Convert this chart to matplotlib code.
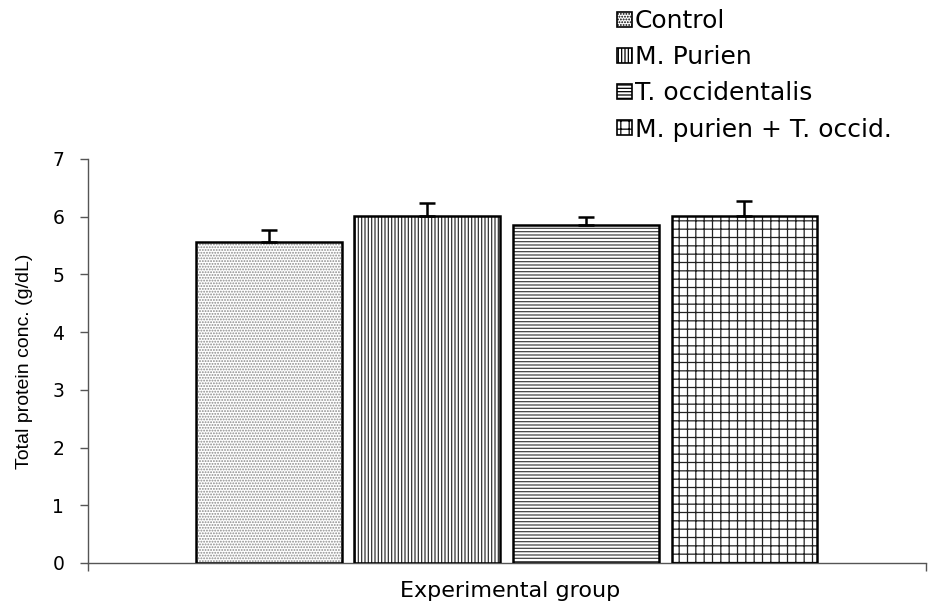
import numpy as np
import matplotlib.pyplot as plt
from matplotlib.patches import Patch

groups = ["Control", "M. Purien", "T. occidentalis", "M. purien + T. occid."]
means = [5.56, 6.01, 5.86, 6.01]
errs = [0.21, 0.23, 0.13, 0.26]
hatches = ["......", "|||||", "-----", "++"]
hatch_cols = ["#8a8a8a", "#333333", "#444444", "#222222"]

plt.rcParams['font.family'] = ['DejaVu Sans']
plt.rcParams['hatch.linewidth'] = 0.9

fig = plt.figure(figsize=(9.32, 6.02), dpi=100)
ax = fig.add_axes([0.0944, 0.0648, 0.8992, 0.6711])

x = np.arange(len(groups))
w = 0.92
# hatch layer (hatch colour follows edgecolor), then black outline on top
ax.bar(x, means, w, color="white", edgecolor=hatch_cols, hatch=hatches, linewidth=0, zorder=2)
ax.bar(x, means, w, fill=False, edgecolor="black", linewidth=1.8, zorder=3)
ax.errorbar(x, means, yerr=[np.zeros(len(errs)), errs], fmt="none", ecolor="black",
            elinewidth=1.8, capsize=6, capthick=1.8, zorder=4)

ax.set_ylim(0, 7)
ax.set_xlim(-1.14, 4.145)
ax.set_yticks(range(8))
ax.set_xticks([-1.14, 4.145])
ax.set_xticklabels([])
ax.tick_params(axis="both", direction="out", length=6, width=1, color="#555555",
               labelsize=13.5, pad=11)
for s in ["top", "right"]:
    ax.spines[s].set_visible(False)
for s in ["left", "bottom"]:
    ax.spines[s].set_color("#555555")
    ax.spines[s].set_linewidth(1)

ax.set_ylabel("Total protein conc. (g/dL)", fontsize=14,
              family=["Liberation Sans Narrow", "Liberation Sans"], labelpad=14)
fig.text(510 / 932, 1 - 581 / 602, "Experimental group", fontsize=16,
         ha="center", va="top")

handles = [Patch(facecolor="white", edgecolor="black", hatch=h, linewidth=1.2) for h in hatches]
fig.legend(handles, groups, loc="upper left", bbox_to_anchor=(617 / 932, 1 - 9 / 602),
           frameon=False, fontsize=18, handlelength=0.6, handleheight=0.55,
           handletextpad=0.12, labelspacing=0.49, borderpad=0, borderaxespad=0)

fig.savefig("out.png", dpi=100)
